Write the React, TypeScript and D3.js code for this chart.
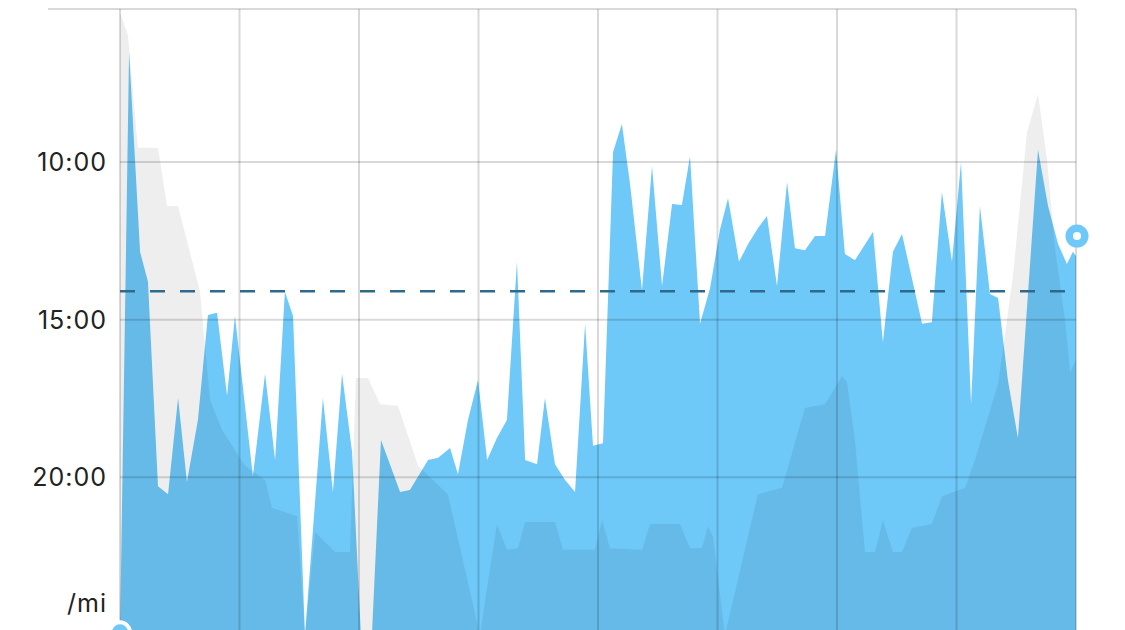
import React from 'react';
import * as d3 from 'd3';

// Current run: distance (mi) and pace (seconds per mile)
const runDistance = [
  0, 0.038, 0.084, 0.117, 0.159, 0.201, 0.243, 0.28, 0.326, 0.368, 0.406, 0.448, 0.481,
  0.556, 0.607, 0.649, 0.69, 0.724, 0.774, 0.849, 0.891, 0.929, 0.971, 1.008, 1.054,
  1.092, 1.172, 1.213, 1.289, 1.331, 1.381, 1.414, 1.456, 1.498, 1.536, 1.577, 1.619,
  1.661, 1.695, 1.745, 1.778, 1.82, 1.862, 1.904, 1.946, 1.979, 2.021, 2.063, 2.1,
  2.134, 2.184, 2.226, 2.268, 2.31, 2.351, 2.385, 2.427, 2.469, 2.51, 2.544, 2.59,
  2.628, 2.669, 2.707, 2.749, 2.791, 2.824, 2.866, 2.908, 2.95, 2.996, 3.033, 3.075,
  3.151, 3.192, 3.234, 3.272, 3.356, 3.397, 3.439, 3.481, 3.519, 3.561, 3.598, 3.64,
  3.674, 3.715, 3.757, 3.841, 3.883, 3.925, 3.962, 3.987, 4.0,
];
const runPace = [
  1500, 391, 771, 828, 1217, 1232, 1049, 1209, 1091, 891, 887, 1045, 893,
  1198, 1003, 1167, 847, 893, 1500, 1049, 1228, 1003, 1152, 1500, 1500,
  1129, 1228, 1224, 1167, 1163, 1144, 1194, 1091, 1015, 1167, 1125, 1091,
  790, 1167, 1175, 1049, 1175, 1205, 1228, 908, 1140, 1135, 581, 528,
  642, 844, 608, 836, 680, 682, 589, 908, 840, 730, 669, 790,
  756, 726, 703, 836, 638, 764, 768, 741, 741, 577, 775, 787,
  733, 943, 771, 737, 908, 905, 657, 790, 600, 1061, 684, 851,
  859, 1015, 1125, 577, 684, 756, 794, 771, 779,
];

// Comparison run: distance (mi) and pace (seconds per mile)
const compareDistance = [
  0, 0.033, 0.075, 0.159, 0.197, 0.243, 0.335, 0.377, 0.427, 0.523, 0.607, 0.636, 0.741,
  0.774, 0.816, 0.9, 0.962, 0.987, 1.038, 1.088, 1.163, 1.247, 1.372, 1.506, 1.577,
  1.619, 1.665, 1.695, 1.82, 1.854, 1.987, 2.017, 2.05, 2.184, 2.218, 2.343, 2.385,
  2.435, 2.46, 2.481, 2.531, 2.669, 2.77, 2.866, 2.95, 3.021, 3.042, 3.075, 3.117,
  3.159, 3.192, 3.234, 3.272, 3.314, 3.397, 3.439, 3.536, 3.577, 3.674, 3.736, 3.795,
  3.841, 3.879, 3.912, 3.954, 3.975, 4.0,
];
const comparePace = [
  315, 358, 573, 573, 684, 684, 847, 1053, 1110, 1178, 1205, 1258, 1274,
  1500, 1304, 1342, 1342, 1011, 1011, 1061, 1064, 1178, 1232, 1500, 1289,
  1338, 1335, 1285, 1285, 1338, 1338, 1281, 1335, 1338, 1289, 1289, 1335,
  1335, 1293, 1312, 1500, 1232, 1220, 1068, 1061, 1007, 1019, 1129, 1342,
  1342, 1281, 1342, 1342, 1296, 1289, 1236, 1220, 1167, 1022, 817, 543,
  471, 596, 764, 901, 1000, 977,
];

const paceTicks = [600, 900, 1200];
const paceTickLabels = ['10:00', '15:00', '20:00'];
const unitLabel = '/mi';
const unitLabelPace = 1440;
const distanceTicks = [0, 0.5, 1, 1.5, 2, 2.5, 3, 3.5, 4];
const paceDomain = [309, 1500];
const distanceDomain = [0, 4];
const averagePace = 846;
const startMarker = { distance: 0, pace: 1495 };
const endMarker = { distance: 4, pace: 741 };

export default function App() {
  const W = 1125;
  const H = 630;
  const x = d3.scaleLinear().domain(distanceDomain).range([120, 1076]);
  const y = d3.scaleLinear().domain(paceDomain).range([9, 635]);

  const runData = runDistance.map((d, i) => ({ d, p: runPace[i] }));
  const compareData = compareDistance.map((d, i) => ({ d, p: comparePace[i] }));

  const area = d3
    .area<{ d: number; p: number }>()
    .x((v) => x(v.d))
    .y0(y(paceDomain[1]) + 10)
    .y1((v) => y(v.p))
    .curve(d3.curveLinear);

  const gridColor = 'rgba(0,0,0,0.15)';
  const fontFamily = 'Inter, Lato, "Noto Sans", sans-serif';

  return (
    <svg
      width={W}
      height={H}
      style={{ position: 'absolute', left: 0, top: 0, background: '#ffffff' }}
    >
      <path d={area(runData) || ''} fill="#6ec8f8" />
      <path d={area(compareData) || ''} fill="rgba(0,0,0,0.065)" />

      {/* vertical grid */}
      {distanceTicks.map((t) => (
        <line
          key={'v' + t}
          x1={x(t)}
          x2={x(t)}
          y1={y(paceDomain[0])}
          y2={H + 10}
          stroke={gridColor}
          strokeWidth={2}
        />
      ))}
      {/* top border */}
      <line
        x1={48}
        x2={x(distanceDomain[1])}
        y1={y(paceDomain[0])}
        y2={y(paceDomain[0])}
        stroke={gridColor}
        strokeWidth={2}
      />
      {/* horizontal grid */}
      {paceTicks.map((t) => (
        <line
          key={'h' + t}
          x1={x(distanceDomain[0])}
          x2={x(distanceDomain[1])}
          y1={y(t)}
          y2={y(t)}
          stroke={gridColor}
          strokeWidth={2}
        />
      ))}

      {/* average pace */}
      <line
        x1={x(distanceDomain[0])}
        x2={x(distanceDomain[1])}
        y1={y(averagePace)}
        y2={y(averagePace)}
        stroke="#2f6a8c"
        strokeWidth={2.5}
        strokeDasharray="15 15"
      />

      {/* tick labels */}
      {paceTicks.map((t, i) => (
        <text
          key={'l' + t}
          x={107}
          y={y(t)}
          textAnchor="end"
          dominantBaseline="central"
          fontFamily={fontFamily}
          fontSize={25}
          letterSpacing={1}
          fill="#222222"
        >
          {paceTickLabels[i]}
        </text>
      ))}
      <text
        x={107}
        y={y(unitLabelPace)}
        textAnchor="end"
        dominantBaseline="central"
        fontFamily={fontFamily}
        fontSize={25}
        letterSpacing={1}
        fill="#222222"
      >
        {unitLabel}
      </text>

      {/* markers */}
      <circle
        cx={x(startMarker.distance)}
        cy={y(startMarker.pace)}
        r={10}
        fill="#6ec8f8"
        stroke="#ffffff"
        strokeWidth={4}
      />
      <circle
        cx={x(endMarker.distance) + 1}
        cy={y(endMarker.pace)}
        r={7.8}
        fill="#ffffff"
        stroke="#6ec8f8"
        strokeWidth={7.5}
      />
    </svg>
  );
}
